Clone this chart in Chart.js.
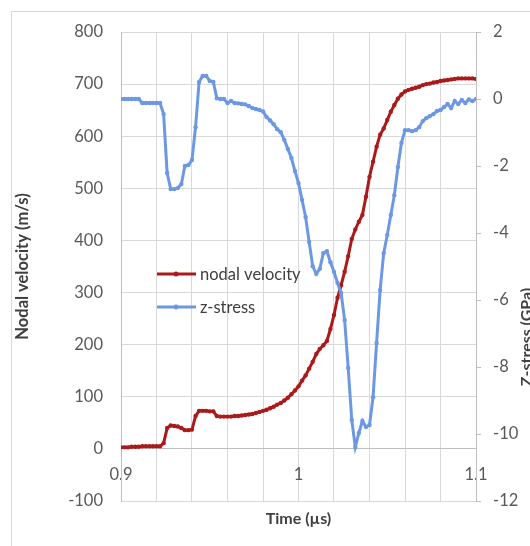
<!DOCTYPE html>
<html>
<head>
<meta charset="utf-8">
<title>Nodal velocity and z-stress</title>
<script src="https://cdn.jsdelivr.net/npm/chart.js@4.4.1/dist/chart.umd.min.js"></script>
<style>
  html, body { margin: 0; padding: 0; background: #fff; overflow: hidden; }
  #wrap { position: relative; width: 530px; height: 546px; }
  #frame { position: absolute; left: 11px; top: 11px; width: 600px; height: 600px; border: 1px solid #d9d9d9; box-sizing: border-box; }
  #chart { position: absolute; left: 0; top: 0; }
</style>
</head>
<body>
<div id="wrap">
  <div id="frame"></div>
  <canvas id="chart" width="530" height="546"></canvas>
</div>
<script>
// time samples (µs)
const times = [
  0.900, 0.902, 0.904, 0.906, 0.908, 0.910, 0.912, 0.914, 0.916, 0.918,
  0.920, 0.922, 0.924, 0.926, 0.928, 0.930, 0.932, 0.934, 0.936, 0.938,
  0.940, 0.942, 0.944, 0.946, 0.948, 0.950, 0.952, 0.954, 0.956, 0.958,
  0.960, 0.962, 0.964, 0.966, 0.968, 0.970, 0.972, 0.974, 0.976, 0.978,
  0.980, 0.982, 0.984, 0.986, 0.988, 0.990, 0.992, 0.994, 0.996, 0.998,
  1.000, 1.002, 1.004, 1.006, 1.008, 1.010, 1.012, 1.014, 1.016, 1.018,
  1.020, 1.022, 1.024, 1.026, 1.028, 1.030, 1.032, 1.034, 1.036, 1.038,
  1.040, 1.042, 1.044, 1.046, 1.048, 1.050, 1.052, 1.054, 1.056, 1.058,
  1.060, 1.062, 1.064, 1.066, 1.068, 1.070, 1.072, 1.074, 1.076, 1.078,
  1.080, 1.082, 1.084, 1.086, 1.088, 1.090, 1.092, 1.094, 1.096, 1.098,
  1.100
];

// nodal velocity (m/s), left axis
const nodalVelocity = [
  3, 3, 3, 4, 4, 4, 5, 5, 5, 5,
  5, 5, 11, 40, 45, 44, 43, 40, 36, 36,
  37, 63, 73, 73, 73, 72, 72, 63, 62, 62,
  62, 62, 63, 63, 64, 65, 66, 67, 69, 71,
  73, 75, 78, 81, 85, 88, 93, 98, 105, 112,
  120, 131, 141, 154, 167, 182, 192, 199, 207, 230,
  257, 290, 314, 340, 370, 403, 421, 436, 449, 484,
  522, 551, 580, 603, 615, 631, 647, 660, 672, 680,
  686, 689, 691, 693, 695, 698, 700, 701, 703, 704,
  706, 707, 708, 709, 710, 711, 711, 711, 711, 711,
  710
];

// z-stress (GPa), right axis
const zStress = [
  0, 0, 0, 0, 0, 0, -0.12, -0.12, -0.12, -0.12,
  -0.12, -0.12, -0.45, -2.21, -2.69, -2.69, -2.66, -2.54, -2.0, -1.97,
  -1.82, -0.84, 0.51, 0.69, 0.69, 0.54, 0.51, 0.02, 0, 0,
  -0.12, -0.06, -0.12, -0.13, -0.15, -0.16, -0.21, -0.27, -0.30, -0.33,
  -0.37, -0.54, -0.64, -0.75, -0.9, -0.99, -1.22, -1.49, -1.76, -2.15,
  -2.51, -3.01, -3.52, -4.27, -4.99, -5.22, -5.07, -4.6, -4.54, -4.87,
  -5.16, -5.49, -5.79, -6.6, -8.03, -9.58, -10.39, -9.97, -9.61, -9.79,
  -9.73, -8.9, -7.28, -5.7, -4.6, -4.06, -3.46, -2.87, -2.03, -1.31,
  -0.93, -0.93, -0.96, -0.93, -0.84, -0.66, -0.57, -0.51, -0.45, -0.36,
  -0.33, -0.24, -0.15, -0.27, -0.06, -0.15, -0.03, -0.12, -0.01, -0.06,
  0
];

const seriesLabels = ['nodal velocity', 'z-stress'];
const seriesColors = ['#ab1a1a', '#6c98e3'];
const xTickLabels = [0.9, 1, 1.1];

const FONT = 'Lato, "Open Sans", sans-serif';
const TICK_COLOR = '#595959';
const TITLE_COLOR = '#404040';
const GRID_COLOR = '#d9d9d9';
const AXIS_COLOR = '#bfbfbf';

const toPoints = (ys) => times.map((t, i) => ({ x: t, y: ys[i] }));

// legend sitting inside the plot area
const insideLegend = {
  id: 'insideLegend',
  afterDatasetsDraw(chart) {
    const { ctx, chartArea } = chart;
    const x0 = chartArea.left + 36;
    chart.data.datasets.forEach((ds, i) => {
      const y = 274 + i * 33;
      ctx.save();
      ctx.strokeStyle = ds.borderColor;
      ctx.lineWidth = 3;
      ctx.beginPath();
      ctx.moveTo(x0, y);
      ctx.lineTo(x0 + 39, y);
      ctx.stroke();
      ctx.fillStyle = ds.borderColor;
      ctx.beginPath();
      ctx.arc(x0 + 19, y, 2.5, 0, Math.PI * 2);
      ctx.fill();
      ctx.fillStyle = TITLE_COLOR;
      ctx.font = '16.5px ' + FONT;
      ctx.textBaseline = 'middle';
      ctx.fillText(ds.label, x0 + 43, y + 1);
      ctx.restore();
    });
  }
};

// right axis title, reading bottom to top like the left one
const rightTitle = {
  id: 'rightTitle',
  afterDraw(chart) {
    const { ctx } = chart;
    ctx.save();
    ctx.translate(527, 337);
    ctx.rotate(-Math.PI / 2);
    ctx.fillStyle = TITLE_COLOR;
    ctx.font = 'bold 16px ' + FONT;
    ctx.textAlign = 'center';
    ctx.textBaseline = 'middle';
    ctx.fillText('Z-stress (GPa)', 0, 0);
    ctx.restore();
  }
};

new Chart(document.getElementById('chart'), {
  type: 'line',
  data: {
    datasets: [
      {
        label: seriesLabels[0],
        data: toPoints(nodalVelocity),
        yAxisID: 'y',
        borderColor: seriesColors[0],
        backgroundColor: seriesColors[0],
        borderWidth: 3,
        pointRadius: 2.2,
        pointBorderWidth: 0,
        tension: 0,
        order: 2
      },
      {
        label: seriesLabels[1],
        data: toPoints(zStress),
        yAxisID: 'y2',
        borderColor: seriesColors[1],
        backgroundColor: seriesColors[1],
        borderWidth: 3,
        pointRadius: 2.2,
        pointBorderWidth: 0,
        tension: 0,
        order: 1
      }
    ]
  },
  options: {
    responsive: false,
    animation: false,
    devicePixelRatio: 1,
    layout: { padding: { top: 32, left: 0, right: 0, bottom: 0 } },
    plugins: {
      legend: { display: false },
      tooltip: { enabled: false }
    },
    scales: {
      x: {
        type: 'linear',
        position: 'bottom',
        min: 0.9,
        max: 1.1,
        ticks: { display: false, stepSize: 0.02 },
        grid: { color: GRID_COLOR, drawTicks: false },
        border: { display: false },
        title: {
          display: true,
          text: 'Time (µs)',
          color: TITLE_COLOR,
          font: { family: FONT, size: 16, weight: 'bold' },
          padding: { top: 0, bottom: 18 }
        },
        afterFit(scale) { scale.height = 45; }
      },
      x2: {
        type: 'linear',
        position: { y: 0 },
        min: 0.9,
        max: 1.1,
        ticks: {
          stepSize: 0.1,
          padding: 16,
          color: TICK_COLOR,
          font: { family: FONT, size: 16.5 },
          callback: (v) => {
            const hit = xTickLabels.find((t) => Math.abs(t - v) < 1e-6);
            return hit === undefined ? '' : String(hit);
          }
        },
        grid: { display: false, drawTicks: false },
        border: { display: true, color: AXIS_COLOR, width: 1 }
      },
      y: {
        position: 'left',
        min: -100,
        max: 800,
        ticks: {
          stepSize: 100,
          padding: 18,
          color: TICK_COLOR,
          font: { family: FONT, size: 16.5 }
        },
        grid: { color: GRID_COLOR, drawTicks: false },
        border: { color: AXIS_COLOR },
        title: {
          display: true,
          text: 'Nodal velocity (m/s)',
          color: TITLE_COLOR,
          font: { family: FONT, size: 16.5, weight: 'bold' },
          padding: { top: 13, bottom: 0 }
        },
        afterFit(scale) { scale.width = 121; }
      },
      y2: {
        position: 'right',
        min: -12,
        max: 2,
        ticks: {
          stepSize: 2,
          padding: 12,
          color: TICK_COLOR,
          font: { family: FONT, size: 16.5 }
        },
        grid: { drawOnChartArea: false, drawTicks: true, tickLength: 5, color: AXIS_COLOR },
        border: { color: AXIS_COLOR },
        afterFit(scale) { scale.width = 54; }
      }
    }
  },
  plugins: [insideLegend, rightTitle]
});
</script>
</body>
</html>
